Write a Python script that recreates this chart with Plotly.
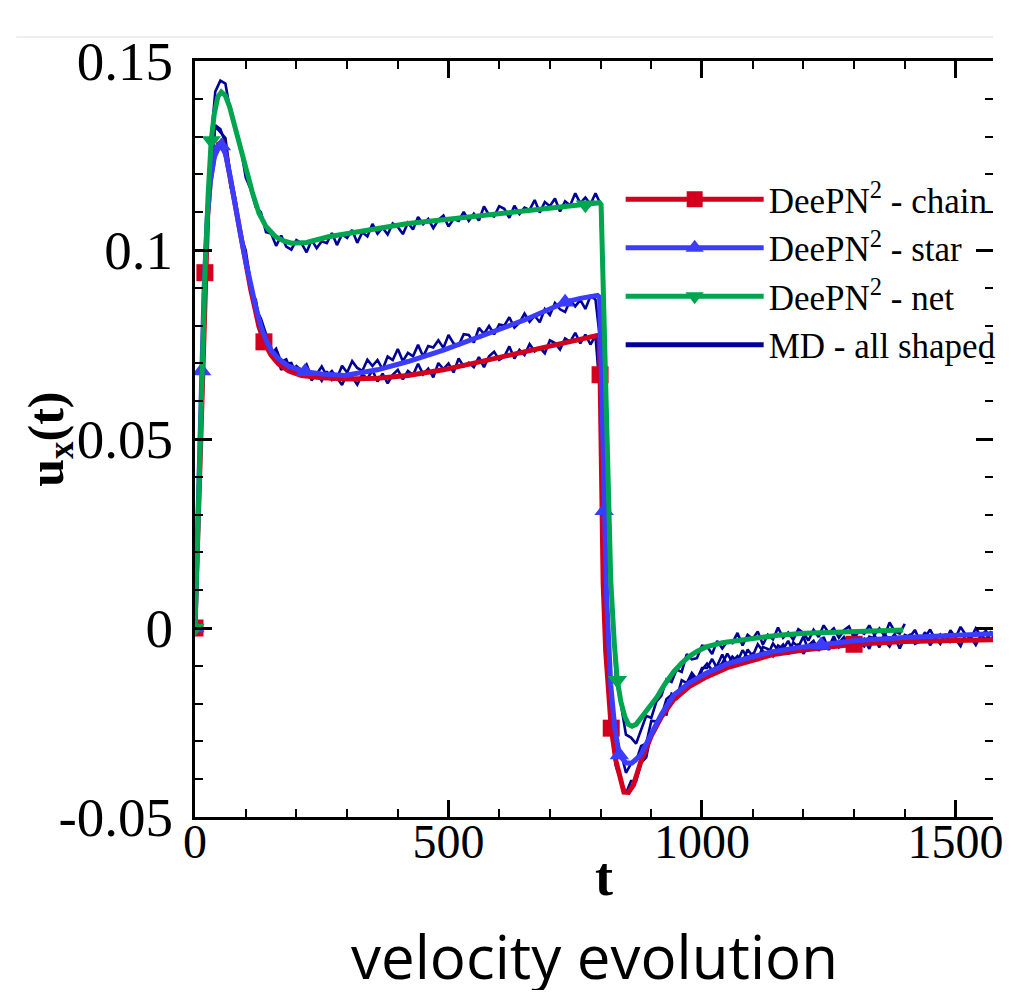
import plotly.graph_objects as go

# ---------------- data ----------------
# MD (molecular dynamics) samples every 10 time units
md_dt = 10
md_chain = [0.0, 0.0512, 0.0955, 0.1205, 0.133, 0.132, 0.1283, 0.1168, 0.1124, 0.1036,
            0.0979, 0.0893, 0.0868, 0.0794, 0.0767, 0.0722, 0.0726, 0.0683, 0.0699, 0.0701,
            0.0671, 0.0673, 0.0693, 0.0655, 0.0673, 0.0654, 0.0679, 0.0656, 0.0662, 0.0643,
            0.0673, 0.0664, 0.0644, 0.0671, 0.066, 0.0682, 0.0652, 0.0673, 0.0647, 0.067,
            0.0683, 0.0658, 0.068, 0.0669, 0.0699, 0.0671, 0.0686, 0.0663, 0.0701, 0.0685,
            0.07, 0.0676, 0.0713, 0.0692, 0.0702, 0.069, 0.0717, 0.069, 0.0719, 0.0731,
            0.0709, 0.0718, 0.0745, 0.0713, 0.0736, 0.0722, 0.0751, 0.0732, 0.0742, 0.0727,
            0.0761, 0.0754, 0.0737, 0.0766, 0.0757, 0.0781, 0.0753, 0.0776, 0.075, 0.0773,
            0.06, 0.0, -0.0238, -0.0365, -0.0405, -0.0438, -0.0405, -0.0405, -0.0357, -0.0342,
            -0.0276, -0.0264, -0.0226, -0.0229, -0.0174, -0.0181, -0.0158, -0.0161, -0.0126, -0.0146,
            -0.0111, -0.0094, -0.0112, -0.01, -0.007, -0.01, -0.0076, -0.0089, -0.0059, -0.0078,
            -0.0068, -0.0083, -0.005, -0.0056, -0.0074, -0.0046, -0.0056, -0.0034, -0.0063, -0.0042,
            -0.0068, -0.0046, -0.0034, -0.006, -0.0039, -0.0051, -0.0022, -0.0051, -0.0037, -0.0062,
            -0.0025, -0.0043, -0.0029, -0.0055, -0.0019, -0.0043, -0.0034, -0.0049, -0.0024, -0.0054,
            -0.0027, -0.0018, -0.0042, -0.0036, -0.0011, -0.0046, -0.0025, -0.0042, -0.0016, -0.0037,
            -0.003, -0.0048, -0.0017, -0.0025, -0.0045, -0.0019, -0.0031, -0.0009, -0.004, -0.002,
            -0.0048]
md_star = [0.0, 0.0486, 0.0974, 0.1191, 0.1327, 0.1312, 0.1296, 0.1198, 0.1133, 0.1039,
           0.0999, 0.0913, 0.0844, 0.0819, 0.0778, 0.0724, 0.0739, 0.0704, 0.0711, 0.0677,
           0.0693, 0.0682, 0.0697, 0.0664, 0.0672, 0.0692, 0.0667, 0.068, 0.0661, 0.0694,
           0.0676, 0.0706, 0.0688, 0.068, 0.071, 0.0693, 0.0709, 0.0684, 0.0718, 0.0709,
           0.0738, 0.0706, 0.0728, 0.0719, 0.0749, 0.0718, 0.0746, 0.0742, 0.0761, 0.0741,
           0.0775, 0.0753, 0.0748, 0.0777, 0.0775, 0.0755, 0.0794, 0.0778, 0.0799, 0.0777,
           0.0803, 0.08, 0.0822, 0.0795, 0.0808, 0.0832, 0.081, 0.0826, 0.0809, 0.0844,
           0.0828, 0.086, 0.0843, 0.0836, 0.0867, 0.0851, 0.0868, 0.0844, 0.0878, 0.0869,
           0.075, 0.005, -0.0196, -0.0309, -0.0328, -0.0383, -0.0359, -0.0352, -0.0312, -0.0306,
           -0.0246, -0.0247, -0.0233, -0.0188, -0.0177, -0.0186, -0.0138, -0.0146, -0.0119, -0.0136,
           -0.0106, -0.0106, -0.0082, -0.0107, -0.0093, -0.0068, -0.009, -0.0074, -0.0091, -0.0057,
           -0.0074, -0.0043, -0.0061, -0.007, -0.0041, -0.0059, -0.0044, -0.007, -0.0038, -0.005,
           -0.0023, -0.0058, -0.0039, -0.0051, -0.0024, -0.0058, -0.0033, -0.004, -0.0024, -0.0047,
           -0.0016, -0.0041, -0.0049, -0.0023, -0.0028, -0.0051, -0.0015, -0.0034, -0.0016, -0.0041,
           -0.0018, -0.0024, -0.0005, -0.0035, -0.0025, -0.0004, -0.003, -0.0017, -0.0038, -0.0006,
           -0.0026, 0.0003, -0.0018, -0.0028, -0.0001, -0.0021, -0.0007, -0.0035, -0.0005, -0.0018,
           0.0007]
md_net = [0.0, 0.05, 0.1008, 0.1268, 0.1419, 0.1448, 0.144, 0.1364, 0.1324, 0.1273,
          0.1192, 0.116, 0.1113, 0.11, 0.1047, 0.1044, 0.1011, 0.1038, 0.1009, 0.1001,
          0.1026, 0.1018, 0.0994, 0.1026, 0.1005, 0.1023, 0.1018, 0.1045, 0.1013, 0.1042,
          0.1032, 0.1053, 0.1019, 0.1047, 0.1036, 0.1069, 0.1043, 0.1059, 0.1041, 0.107,
          0.1061, 0.1042, 0.1072, 0.1054, 0.1087, 0.1068, 0.1082, 0.1058, 0.108, 0.1091,
          0.1062, 0.1082, 0.1077, 0.1101, 0.1077, 0.1096, 0.1078, 0.1115, 0.1093, 0.1089,
          0.1116, 0.1109, 0.1085, 0.1117, 0.1095, 0.1112, 0.1106, 0.1132, 0.1099, 0.1127,
          0.1116, 0.1136, 0.1102, 0.1129, 0.1118, 0.115, 0.1124, 0.1139, 0.1121, 0.115,
          0.1121, 0.06, 0.012, -0.0132, -0.0201, -0.0282, -0.029, -0.0306, -0.0266, -0.0232,
          -0.0238, -0.0195, -0.0179, -0.0136, -0.0143, -0.011, -0.0116, -0.0069, -0.0083, -0.008,
          -0.0047, -0.0049, -0.0069, -0.0034, -0.0054, -0.0035, -0.004, -0.0013, -0.0046, -0.0018,
          -0.0029, -0.0009, -0.0044, -0.0018, -0.003, 0.0001, -0.0026, -0.0012, -0.0031, -0.0003,
          -0.0013, -0.0033, -0.0005, -0.0024, 0.0007, -0.0013, -0.0001, -0.0026, -0.0006, 0.0004,
          -0.0027, -0.0008, -0.0015, 0.0007, -0.0018, -0.0001, -0.0021, 0.0015, -0.0009, -0.0015,
          0.0011]

# DeePN^2 - chain
chain_t = [0, 5, 10, 15, 19.5, 25, 30, 38, 46, 54, 62, 70, 80, 90, 100, 110, 120, 126, 136, 150,
           165, 185, 210, 250, 300, 360, 420, 490, 548, 600, 650, 710, 760, 791, 797, 799, 802, 805, 810, 815,
           821, 830, 838, 846, 855, 865, 879, 900, 920, 944, 975, 1008, 1050, 1100, 1138, 1200, 1235, 1300, 1400, 1500,
           1600]
chain_u = [0, 0.024, 0.048, 0.072, 0.094, 0.109, 0.118, 0.125, 0.128, 0.1285,
           0.1245, 0.1185, 0.1105, 0.1035, 0.0965, 0.0895, 0.0835, 0.0798, 0.0757, 0.0722,
           0.0698, 0.068, 0.0668, 0.0662, 0.0659, 0.0661, 0.0668, 0.0683, 0.07, 0.0715,
           0.073, 0.0749, 0.0762, 0.0771, 0.0775, 0.067, 0.04, 0.012, -0.006, -0.018,
           -0.0265, -0.035, -0.0398, -0.0434, -0.0435, -0.0415, -0.0355, -0.0285, -0.0235, -0.019,
           -0.0155, -0.013, -0.0105, -0.0085, -0.0071, -0.0058, -0.0053, -0.0043, -0.0036, -0.0032,
           -0.003]
chain_mk_t = [0, 19.5, 136, 799, 821, 1300]
chain_mk_u = [0, 0.094, 0.0757, 0.067, -0.0265, -0.0043]

# DeePN^2 - star
star_t = [0, 5, 10, 13, 18, 24, 30, 38, 46, 52, 60, 70, 80, 90, 100, 110, 120, 130, 139, 150,
          165, 185, 200, 217, 250, 295, 360, 420, 490, 548, 600, 650, 710, 730, 760, 794, 798, 801, 804, 807,
          812, 820, 828, 837, 850, 862, 879, 900, 920, 944, 975, 1008, 1050, 1100, 1138, 1200, 1235, 1300, 1400, 1500,
          1600]
star_u = [0, 0.026, 0.052, 0.068, 0.09, 0.108, 0.118, 0.1245, 0.127, 0.1275,
          0.1255, 0.119, 0.111, 0.104, 0.097, 0.0905, 0.0848, 0.0798, 0.0765, 0.0735,
          0.0712, 0.0692, 0.0684, 0.0678, 0.0672, 0.0668, 0.0683, 0.0705, 0.0735, 0.0765,
          0.079, 0.0815, 0.085, 0.0862, 0.0872, 0.088, 0.0875, 0.07, 0.048, 0.031,
          0.008, -0.015, -0.0265, -0.0336, -0.0357, -0.0357, -0.0336, -0.028, -0.0228, -0.0178,
          -0.0145, -0.012, -0.0095, -0.0076, -0.0063, -0.005, -0.0045, -0.0034, -0.0025, -0.0018,
          -0.0014]
star_mk_t = [0, 13, 52, 217, 730, 807, 837, 1235]
star_mk_u = [0, 0.068, 0.1275, 0.0678, 0.0862, 0.031, -0.0336, -0.0045]

# DeePN^2 - net
net_t = [0, 5, 10, 15, 20, 26, 32, 38, 45, 52, 60, 68, 76, 88, 100, 113, 126, 140, 159, 175,
         191, 220, 263, 310, 360, 420, 490, 548, 600, 650, 700, 750, 770, 798, 801, 810, 820, 827, 833, 840,
         848, 855, 862, 870, 880, 895, 911, 925, 944, 960, 975, 990, 1008, 1040, 1074, 1110, 1150, 1202, 1250, 1300,
         1350, 1397]
net_u = [0, 0.025, 0.05, 0.073, 0.095, 0.115, 0.129, 0.136, 0.1405, 0.1418,
         0.1408, 0.138, 0.134, 0.1275, 0.1212, 0.1153, 0.1098, 0.1062, 0.1035, 0.1024,
         0.1018, 0.102, 0.1035, 0.1046, 0.1058, 0.107, 0.108, 0.1088, 0.1096, 0.1104,
         0.111, 0.1117, 0.112, 0.1125, 0.112, 0.07, 0.0127, -0.004, -0.0138, -0.0195,
         -0.0235, -0.0255, -0.026, -0.0255, -0.0238, -0.0212, -0.0183, -0.0152, -0.0116, -0.0093,
         -0.0075, -0.0062, -0.005, -0.0039, -0.0032, -0.0025, -0.0019, -0.0014, -0.0011, -0.0008,
         -0.0006, -0.0005]
net_mk_t = [0, 32, 770, 833]
net_mk_u = [0, 0.129, 0.112, -0.0138]

legend_names = ["DeePN<sup>2</sup> - chain", "DeePN<sup>2</sup> - star",
                "DeePN<sup>2</sup> - net", "MD - all shaped"]
x_range = [0, 1574]
y_range = [-0.05, 0.15]
y_tick_vals = [-0.05, 0, 0.05, 0.1, 0.15]
y_tick_text = ["-0.05", "0", "0.05", "0.1", "0.15"]

# ---------------- styling ----------------
RED = "#d2001e"
BLUE = "#3c3cff"
GREEN = "#00a550"
NAVY = "#000096"
SERIF = "Liberation Serif, Times New Roman, serif"

# page geometry (the page body adds an 8 px margin around the figure)
FIG_W, FIG_H = 995, 982
ML, MT, MB = 187, 53, 173
PLOT_L, PLOT_T, PLOT_W, PLOT_H = 195, 61, 808, 756


def px(xabs):
    return (xabs - PLOT_L) / PLOT_W


def py(yabs):
    return (PLOT_T + PLOT_H - yabs) / PLOT_H


fig = go.Figure()

md_t_full = [i * md_dt for i in range(len(md_chain))]
for ys in (md_chain, md_star, md_net):
    fig.add_trace(go.Scatter(x=md_t_full[:len(ys)], y=ys, mode="lines",
                             line=dict(color=NAVY, width=2.6),
                             showlegend=False, hoverinfo="skip"))

models = [
    (chain_t, chain_u, chain_mk_t, chain_mk_u, RED, "square", 17, legend_names[0], 1),
    (star_t, star_u, star_mk_t, star_mk_u, BLUE, "triangle-up", 17, legend_names[1], 2),
    (net_t, net_u, net_mk_t, net_mk_u, GREEN, "triangle-down", 17, legend_names[2], 3),
]
for t, u, mt, mu, col, sym, msz, name, rank in models:
    fig.add_trace(go.Scatter(x=t, y=u, mode="lines", line=dict(color=col, width=5),
                             showlegend=False, hoverinfo="skip"))
    fig.add_trace(go.Scatter(x=mt, y=mu, mode="markers",
                             marker=dict(symbol=sym, size=msz, color=col, line=dict(width=0)),
                             showlegend=False, hoverinfo="skip"))
    # legend entry
    fig.add_trace(go.Scatter(x=[None], y=[None], mode="lines+markers", name=name,
                             line=dict(color=col, width=5),
                             marker=dict(symbol=sym, size=msz, color=col, line=dict(width=0)),
                             legendrank=rank))

fig.add_trace(go.Scatter(x=[None], y=[None], mode="lines", name=legend_names[3],
                         line=dict(color=NAVY, width=5), legendrank=4))
# carrier for the right-hand tick axis
fig.add_trace(go.Scatter(x=[None], y=[None], yaxis="y2", showlegend=False, hoverinfo="skip"))

axis_common = dict(showgrid=False, zeroline=False, ticks="inside", tickcolor="black",
                   tickwidth=2.5, ticklen=17)

fig.update_layout(
    width=FIG_W, height=FIG_H,
    margin=dict(l=ML, r=0, t=MT, b=MB),
    paper_bgcolor="white", plot_bgcolor="white",
    showlegend=True,
    legend=dict(x=px(626), y=py(170), xanchor="left", yanchor="top",
                bgcolor="rgba(0,0,0,0)", borderwidth=0, itemwidth=138,
                font=dict(family=SERIF, size=35, color="black"), traceorder="normal",
                tracegroupgap=0),
    xaxis=dict(range=x_range, **axis_common, showline=True, linecolor="black", linewidth=3,
               mirror="ticks", tickmode="linear", tick0=0, dtick=500,
               tickfont=dict(family=SERIF, size=48, color="black"), ticklabelstandoff=-20,
               ticklabeloverflow="allow",
               minor=dict(tickmode="linear", tick0=0, dtick=100, ticks="inside", ticklen=8,
                          tickwidth=1.5, tickcolor="black", showgrid=False)),
    yaxis=dict(range=y_range, **axis_common, showline=True, linecolor="black", linewidth=3,
               tickmode="array", tickvals=y_tick_vals, ticktext=y_tick_text,
               tickfont=dict(family=SERIF, size=55, color="black"), ticklabelstandoff=8,
               ticklabeloverflow="allow",
               minor=dict(tickmode="linear", tick0=0, dtick=0.01, ticks="inside", ticklen=8,
                          tickwidth=1.5, tickcolor="black", showgrid=False)),
    yaxis2=dict(range=y_range, overlaying="y", side="right", anchor="x", showline=False,
                **axis_common, tickmode="array", tickvals=y_tick_vals, showticklabels=False,
                minor=dict(tickmode="linear", tick0=0, dtick=0.01, ticks="inside", ticklen=8,
                           tickwidth=1.5, tickcolor="black", showgrid=False)),
    annotations=[
        dict(text="<b>u<sub>x</sub>(t)</b>", xref="paper", yref="paper",
             x=px(48), y=0.5, textangle=-90, showarrow=False,
             xanchor="center", yanchor="middle",
             font=dict(family=SERIF, size=50, color="black")),
        dict(text="<b>t</b>", xref="paper", yref="paper",
             x=px(609), y=py(877), showarrow=False,
             xanchor="center", yanchor="middle",
             font=dict(family=SERIF, size=54, color="black")),
        dict(text="velocity evolution", xref="paper", yref="paper",
             x=px(599), y=py(956), showarrow=False,
             xanchor="center", yanchor="middle",
             font=dict(family="Open Sans, Noto Sans, sans-serif", size=60, color="black")),
    ],
    shapes=[dict(type="line", xref="paper", yref="paper",
                 x0=px(14), x1=1.0, y0=py(37), y1=py(37),
                 line=dict(color="#dddddd", width=1))],
)

fig.write_html("out.html")
